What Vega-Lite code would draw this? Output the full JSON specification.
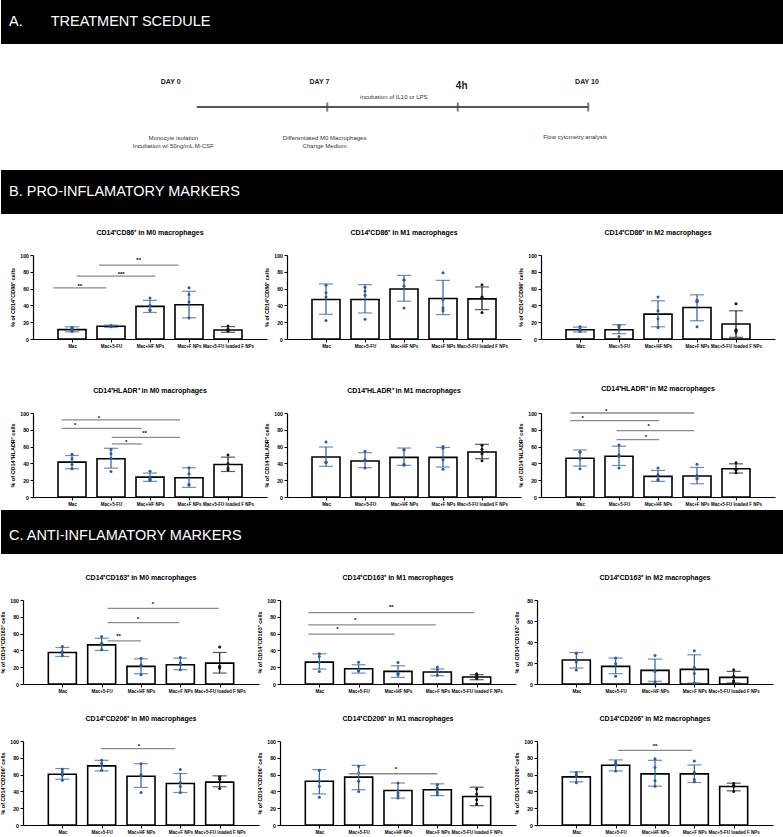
{
"$schema":"https://vega.github.io/schema/vega-lite/v6.json",
"padding":0,
"spacing":0,
"datasets":{
"bars":[
{"p":1,"g":1,"m":11.2,"lo":8.5,"hi":14.5},{"p":1,"g":2,"m":15.2,"lo":14,"hi":16.5},{"p":1,"g":3,"m":38.8,"lo":31.6,"hi":46},{"p":1,"g":4,"m":40.8,"lo":25.2,"hi":56.8},{"p":1,"g":5,"m":10.8,"lo":8,"hi":14.8},
{"p":2,"g":1,"m":47,"lo":29.4,"hi":65.5},{"p":2,"g":2,"m":47,"lo":31,"hi":64.7},{"p":2,"g":3,"m":59.6,"lo":45,"hi":75.7},{"p":2,"g":4,"m":48.2,"lo":29,"hi":69.8},{"p":2,"g":5,"m":47.8,"lo":35,"hi":62},
{"p":3,"g":1,"m":11,"lo":8.3,"hi":14.2},{"p":3,"g":2,"m":11,"lo":6.3,"hi":17},{"p":3,"g":3,"m":29.6,"lo":14.6,"hi":45.5},{"p":3,"g":4,"m":37.5,"lo":21.7,"hi":52.6},{"p":3,"g":5,"m":17.8,"lo":2,"hi":33.6},
{"p":4,"g":1,"m":41.5,"lo":33.6,"hi":49.4},{"p":4,"g":2,"m":45.5,"lo":34.4,"hi":58},{"p":4,"g":3,"m":23.7,"lo":18.6,"hi":28.5},{"p":4,"g":4,"m":23,"lo":11.5,"hi":34.8},{"p":4,"g":5,"m":38.7,"lo":30.4,"hi":47.4},
{"p":5,"g":1,"m":47.6,"lo":36.5,"hi":59.5},{"p":5,"g":2,"m":42.9,"lo":34.9,"hi":52.8},{"p":5,"g":3,"m":47.2,"lo":37.7,"hi":58.3},{"p":5,"g":4,"m":47.2,"lo":35.7,"hi":59},{"p":5,"g":5,"m":53.6,"lo":45.6,"hi":62.7},
{"p":6,"g":1,"m":46.2,"lo":36.8,"hi":56},{"p":6,"g":2,"m":48.6,"lo":37.5,"hi":60.5},{"p":6,"g":3,"m":24.5,"lo":18.6,"hi":31.6},{"p":6,"g":4,"m":25,"lo":15.8,"hi":35.2},{"p":6,"g":5,"m":33.6,"lo":28.5,"hi":39.5},
{"p":7,"g":1,"m":37.5,"lo":32.8,"hi":43.5},{"p":7,"g":2,"m":46.6,"lo":39.9,"hi":54.5},{"p":7,"g":3,"m":21,"lo":12.3,"hi":30},{"p":7,"g":4,"m":22.9,"lo":17,"hi":30.8},{"p":7,"g":5,"m":24.9,"lo":13,"hi":37.5},
{"p":8,"g":1,"m":26,"lo":17.8,"hi":36},{"p":8,"g":2,"m":18.2,"lo":13,"hi":22.9},{"p":8,"g":3,"m":15,"lo":7.9,"hi":21.7},{"p":8,"g":4,"m":14.2,"lo":9.9,"hi":17.8},{"p":8,"g":5,"m":8.3,"lo":5.1,"hi":11.1},
{"p":9,"g":1,"m":22.8,"lo":15.2,"hi":30},{"p":9,"g":2,"m":16.8,"lo":9.8,"hi":24.7},{"p":9,"g":3,"m":13,"lo":2.5,"hi":23.7},{"p":9,"g":4,"m":13.9,"lo":0.9,"hi":27.8},{"p":9,"g":5,"m":6.3,"lo":0.9,"hi":12},
{"p":10,"g":1,"m":60.5,"lo":54.5,"hi":67.2},{"p":10,"g":2,"m":70.4,"lo":64.4,"hi":77},{"p":10,"g":3,"m":58,"lo":44.7,"hi":73},{"p":10,"g":4,"m":49.4,"lo":38.7,"hi":61.3},{"p":10,"g":5,"m":51,"lo":45.5,"hi":58.5},
{"p":11,"g":1,"m":52,"lo":37,"hi":66},{"p":11,"g":2,"m":57,"lo":42,"hi":71},{"p":11,"g":3,"m":41,"lo":32,"hi":50},{"p":11,"g":4,"m":42,"lo":35,"hi":49},{"p":11,"g":5,"m":34,"lo":23,"hi":45},
{"p":12,"g":1,"m":57.3,"lo":51.4,"hi":63.2},{"p":12,"g":2,"m":71.1,"lo":64.4,"hi":77.5},{"p":12,"g":3,"m":60.9,"lo":46.2,"hi":77},{"p":12,"g":4,"m":60.9,"lo":50.6,"hi":71.5},{"p":12,"g":5,"m":45.8,"lo":40.7,"hi":49.8}
],
"dots":[
{"p":1,"g":1,"v":14},{"p":1,"g":1,"v":12},{"p":1,"g":1,"v":10},{"p":1,"g":1,"v":9},
{"p":1,"g":2,"v":16.2},{"p":1,"g":2,"v":15.5},{"p":1,"g":2,"v":15},{"p":1,"g":2,"v":14.5},
{"p":1,"g":3,"v":48.8},{"p":1,"g":3,"v":40},{"p":1,"g":3,"v":34.8},{"p":1,"g":3,"v":34},
{"p":1,"g":4,"v":61},{"p":1,"g":4,"v":53},{"p":1,"g":4,"v":44},{"p":1,"g":4,"v":25},
{"p":1,"g":5,"v":15.6},{"p":1,"g":5,"v":12},{"p":1,"g":5,"v":10},{"p":1,"g":5,"v":9.6},
{"p":2,"g":1,"v":64},{"p":2,"g":1,"v":55},{"p":2,"g":1,"v":50},{"p":2,"g":1,"v":22},
{"p":2,"g":2,"v":61.5},{"p":2,"g":2,"v":57},{"p":2,"g":2,"v":52},{"p":2,"g":2,"v":23.5},
{"p":2,"g":3,"v":70.6},{"p":2,"g":3,"v":70},{"p":2,"g":3,"v":62.7},{"p":2,"g":3,"v":37},
{"p":2,"g":4,"v":78.8},{"p":2,"g":4,"v":47},{"p":2,"g":4,"v":37},{"p":2,"g":4,"v":34},
{"p":2,"g":5,"v":64.7},{"p":2,"g":5,"v":50},{"p":2,"g":5,"v":49},{"p":2,"g":5,"v":31.4},
{"p":3,"g":1,"v":15},{"p":3,"g":1,"v":12},{"p":3,"g":1,"v":10},{"p":3,"g":1,"v":9},
{"p":3,"g":2,"v":16},{"p":3,"g":2,"v":16},{"p":3,"g":2,"v":13.8},{"p":3,"g":2,"v":3},
{"p":3,"g":3,"v":50},{"p":3,"g":3,"v":33.6},{"p":3,"g":3,"v":24},{"p":3,"g":3,"v":13.8},
{"p":3,"g":4,"v":46},{"p":3,"g":4,"v":44.7},{"p":3,"g":4,"v":44.3},{"p":3,"g":4,"v":14.6},
{"p":3,"g":5,"v":42},{"p":3,"g":5,"v":11},{"p":3,"g":5,"v":10},{"p":3,"g":5,"v":8.3},
{"p":4,"g":1,"v":51},{"p":4,"g":1,"v":45.5},{"p":4,"g":1,"v":38.7},{"p":4,"g":1,"v":33.6},
{"p":4,"g":2,"v":56.5},{"p":4,"g":2,"v":51.4},{"p":4,"g":2,"v":46},{"p":4,"g":2,"v":30.4},
{"p":4,"g":3,"v":30.8},{"p":4,"g":3,"v":22.5},{"p":4,"g":3,"v":21},{"p":4,"g":3,"v":19.8},
{"p":4,"g":4,"v":34.8},{"p":4,"g":4,"v":27.7},{"p":4,"g":4,"v":15},{"p":4,"g":4,"v":14.6},
{"p":4,"g":5,"v":50},{"p":4,"g":5,"v":39.5},{"p":4,"g":5,"v":34.8},{"p":4,"g":5,"v":32.4},
{"p":5,"g":1,"v":65.5},{"p":5,"g":1,"v":41.7},{"p":5,"g":1,"v":41.3},{"p":5,"g":1,"v":41},
{"p":5,"g":2,"v":54.4},{"p":5,"g":2,"v":44.4},{"p":5,"g":2,"v":43.7},{"p":5,"g":2,"v":34.5},
{"p":5,"g":3,"v":56.3},{"p":5,"g":3,"v":56},{"p":5,"g":3,"v":39},{"p":5,"g":3,"v":37.7},
{"p":5,"g":4,"v":60},{"p":5,"g":4,"v":58},{"p":5,"g":4,"v":44.4},{"p":5,"g":4,"v":32.9},
{"p":5,"g":5,"v":61.5},{"p":5,"g":5,"v":56.7},{"p":5,"g":5,"v":51.6},{"p":5,"g":5,"v":43.3},
{"p":6,"g":1,"v":54},{"p":6,"g":1,"v":53.4},{"p":6,"g":1,"v":45.5},{"p":6,"g":1,"v":33.6},
{"p":6,"g":2,"v":62},{"p":6,"g":2,"v":50.2},{"p":6,"g":2,"v":48.6},{"p":6,"g":2,"v":34.4},
{"p":6,"g":3,"v":34.4},{"p":6,"g":3,"v":26.5},{"p":6,"g":3,"v":20.6},{"p":6,"g":3,"v":20.6},
{"p":6,"g":4,"v":39},{"p":6,"g":4,"v":25.7},{"p":6,"g":4,"v":22.5},{"p":6,"g":4,"v":21.7},
{"p":6,"g":5,"v":40.7},{"p":6,"g":5,"v":32.8},{"p":6,"g":5,"v":32},{"p":6,"g":5,"v":28.9},
{"p":7,"g":1,"v":44.7},{"p":7,"g":1,"v":38.7},{"p":7,"g":1,"v":36.8},{"p":7,"g":1,"v":33.6},
{"p":7,"g":2,"v":56.5},{"p":7,"g":2,"v":48.6},{"p":7,"g":2,"v":46.6},{"p":7,"g":2,"v":40.7},
{"p":7,"g":3,"v":30.8},{"p":7,"g":3,"v":22.9},{"p":7,"g":3,"v":21.7},{"p":7,"g":3,"v":11.1},
{"p":7,"g":4,"v":31.6},{"p":7,"g":4,"v":24.9},{"p":7,"g":4,"v":22.9},{"p":7,"g":4,"v":17},
{"p":7,"g":5,"v":43.9},{"p":7,"g":5,"v":21},{"p":7,"g":5,"v":20.2},{"p":7,"g":5,"v":19},
{"p":8,"g":1,"v":36},{"p":8,"g":1,"v":32.8},{"p":8,"g":1,"v":26},{"p":8,"g":1,"v":15},
{"p":8,"g":2,"v":26},{"p":8,"g":2,"v":17},{"p":8,"g":2,"v":15.8},{"p":8,"g":2,"v":15.8},
{"p":8,"g":3,"v":25.7},{"p":8,"g":3,"v":13},{"p":8,"g":3,"v":12.3},{"p":8,"g":3,"v":11.1},
{"p":8,"g":4,"v":20.2},{"p":8,"g":4,"v":17},{"p":8,"g":4,"v":14.2},{"p":8,"g":4,"v":10.3},
{"p":8,"g":5,"v":12.3},{"p":8,"g":5,"v":10.3},{"p":8,"g":5,"v":7.9},{"p":8,"g":5,"v":6.3},
{"p":9,"g":1,"v":29.4},{"p":9,"g":1,"v":29.4},{"p":9,"g":1,"v":20.9},{"p":9,"g":1,"v":13.3},
{"p":9,"g":2,"v":24.7},{"p":9,"g":2,"v":19.3},{"p":9,"g":2,"v":7.3},
{"p":9,"g":3,"v":27.2},{"p":9,"g":3,"v":12.7},{"p":9,"g":3,"v":12},{"p":9,"g":3,"v":1.9},
{"p":9,"g":4,"v":31.6},{"p":9,"g":4,"v":15.8},{"p":9,"g":4,"v":10.1},{"p":9,"g":4,"v":1},
{"p":9,"g":5,"v":13.6},{"p":9,"g":5,"v":7.3},{"p":9,"g":5,"v":3.2},{"p":9,"g":5,"v":1.9},
{"p":10,"g":1,"v":66.4},{"p":10,"g":1,"v":63.2},{"p":10,"g":1,"v":59.3},{"p":10,"g":1,"v":53.4},
{"p":10,"g":2,"v":77},{"p":10,"g":2,"v":73.1},{"p":10,"g":2,"v":70.4},{"p":10,"g":2,"v":65.2},
{"p":10,"g":3,"v":73},{"p":10,"g":3,"v":59.7},{"p":10,"g":3,"v":58.5},{"p":10,"g":3,"v":38.7},
{"p":10,"g":4,"v":66},{"p":10,"g":4,"v":50.6},{"p":10,"g":4,"v":45.8},{"p":10,"g":4,"v":38.7},
{"p":10,"g":5,"v":57.3},{"p":10,"g":5,"v":56.5},{"p":10,"g":5,"v":54.5},{"p":10,"g":5,"v":43.5},
{"p":11,"g":1,"v":65},{"p":11,"g":1,"v":52},{"p":11,"g":1,"v":46},{"p":11,"g":1,"v":33},
{"p":11,"g":2,"v":70},{"p":11,"g":2,"v":62},{"p":11,"g":2,"v":52},{"p":11,"g":2,"v":40},
{"p":11,"g":3,"v":50},{"p":11,"g":3,"v":38},{"p":11,"g":3,"v":35},{"p":11,"g":3,"v":32},
{"p":11,"g":4,"v":48},{"p":11,"g":4,"v":44},{"p":11,"g":4,"v":39},{"p":11,"g":4,"v":36},
{"p":11,"g":5,"v":43},{"p":11,"g":5,"v":37},{"p":11,"g":5,"v":30},{"p":11,"g":5,"v":25},
{"p":12,"g":1,"v":62.5},{"p":12,"g":1,"v":59.7},{"p":12,"g":1,"v":58.5},{"p":12,"g":1,"v":50.2},
{"p":12,"g":2,"v":75.5},{"p":12,"g":2,"v":73.5},{"p":12,"g":2,"v":71.1},{"p":12,"g":2,"v":64.4},
{"p":12,"g":3,"v":79},{"p":12,"g":3,"v":68.4},{"p":12,"g":3,"v":52.6},{"p":12,"g":3,"v":46.2},
{"p":12,"g":4,"v":76.3},{"p":12,"g":4,"v":62.5},{"p":12,"g":4,"v":54.2},{"p":12,"g":4,"v":51.4},
{"p":12,"g":5,"v":49.4},{"p":12,"g":5,"v":47.4},{"p":12,"g":5,"v":46.2},{"p":12,"g":5,"v":39.9}
],
"sig":[
{"p":1,"x1":0.52,"x2":1.88,"y":60.8,"lx":1.2,"ly":65,"s":"**"},
{"p":1,"x1":1.12,"x2":3.14,"y":74.8,"lx":2.26,"ly":78.8,"s":"***"},
{"p":1,"x1":1.69,"x2":3.73,"y":88,"lx":2.71,"ly":96,"s":"**"},
{"p":4,"x1":0.74,"x2":3.77,"y":91.7,"lx":1.69,"ly":95.7,"s":"*"},
{"p":4,"x1":0.74,"x2":2.79,"y":81.8,"lx":1.08,"ly":87,"s":"*"},
{"p":4,"x1":2.02,"x2":3.77,"y":71.1,"lx":2.86,"ly":77.9,"s":"**"},
{"p":4,"x1":2.02,"x2":2.79,"y":63.2,"lx":2.39,"ly":67.2,"s":"*"},
{"p":6,"x1":0.75,"x2":3.93,"y":100,"lx":1.67,"ly":104,"s":"*"},
{"p":6,"x1":0.75,"x2":3.03,"y":90.9,"lx":1.07,"ly":95.7,"s":"*"},
{"p":6,"x1":1.94,"x2":3.93,"y":79.1,"lx":2.76,"ly":85.8,"s":"*"},
{"p":6,"x1":1.94,"x2":3.03,"y":68.4,"lx":2.69,"ly":73,"s":"*"},
{"p":7,"x1":2.15,"x2":4.98,"y":90.1,"lx":3.3,"ly":96.8,"s":"*"},
{"p":7,"x1":2.15,"x2":3.97,"y":73.1,"lx":2.92,"ly":79,"s":"*"},
{"p":7,"x1":2.15,"x2":3.0,"y":51.4,"lx":2.43,"ly":58.5,"s":"**"},
{"p":8,"x1":0.72,"x2":4.94,"y":85,"lx":2.83,"ly":92.9,"s":"**"},
{"p":8,"x1":0.72,"x2":3.96,"y":70.4,"lx":1.91,"ly":78.3,"s":"*"},
{"p":8,"x1":0.72,"x2":2.91,"y":59.3,"lx":1.46,"ly":67.2,"s":"*"},
{"p":10,"x1":1.98,"x2":3.87,"y":90.9,"lx":2.95,"ly":96,"s":"*"},
{"p":11,"x1":1.75,"x2":4.0,"y":61,"lx":2.95,"ly":68,"s":"*"},
{"p":12,"x1":2.06,"x2":3.95,"y":88.9,"lx":3.0,"ly":96,"s":"**"}
]
},
"vconcat":[
{"width":783,"height":44,"view":{"fill":"#000000","stroke":null},"data":{"values":[]},"mark":{"type":"point","opacity":0},
 "title":{"text":"A.\u00a0\u00a0\u00a0\u00a0\u00a0\u00a0 TREATMENT SCEDULE","anchor":"start","frame":"group","offset":-29.5,"dx":8,"color":"white","fontSize":14.5,"fontWeight":"normal"}},
{"width":783,"height":126,
 "layer":[
  {"data":{"values":[{"t0":0,"t1":3,"lv":0}]},"mark":{"type":"rule","color":"#555555","strokeWidth":2},
   "encoding":{"x":{"field":"t0","type":"quantitative","scale":{"domain":[-1.365,4.2]},"axis":null},"x2":{"field":"t1"},"y":{"field":"lv","type":"quantitative","scale":{"domain":[-2,2]},"axis":null}}},
  {"data":{"values":[{"t":1,"lv":0},{"t":2,"lv":0},{"t":3,"lv":0}]},"mark":{"type":"tick","orient":"vertical","size":9,"thickness":2,"color":"#444444"},
   "encoding":{"x":{"field":"t","type":"quantitative"},"y":{"field":"lv","type":"quantitative"}}},
  {"data":{"values":[{"t":-0.2,"lv":0.79,"s":"DAY 0"},{"t":0.94,"lv":0.79,"s":"DAY 7"},{"t":2.99,"lv":0.79,"s":"DAY 10"}]},
   "mark":{"type":"text","font":"Liberation Sans Narrow, Liberation Sans","fontSize":7,"fontWeight":"bold","color":"#222222"},
   "encoding":{"x":{"field":"t","type":"quantitative"},"y":{"field":"lv","type":"quantitative"},"text":{"field":"s"}}},
  {"data":{"values":[{"t":2.03,"lv":0.66,"s":"4h"}]},
   "mark":{"type":"text","font":"Liberation Sans Narrow, Liberation Sans","fontSize":10,"fontWeight":"bold","color":"#222222"},
   "encoding":{"x":{"field":"t","type":"quantitative"},"y":{"field":"lv","type":"quantitative"},"text":{"field":"s"}}},
  {"data":{"values":[{"t":1.51,"lv":0.32,"s":"incubation of IL10 or LPS"},{"t":-0.18,"lv":-0.97,"s":["Monocyte isolation","Incubation w/ 50ng/mL M-CSF"]},{"t":0.98,"lv":-0.97,"s":["Differentiated  M0 Macrophages","Change Medium"]},{"t":2.9,"lv":-0.94,"s":"Flow cytometry analysis"}]},
   "mark":{"type":"text","font":"Liberation Sans Narrow, Liberation Sans","fontSize":6,"lineHeight":8,"color":"#333333"},
   "encoding":{"x":{"field":"t","type":"quantitative"},"y":{"field":"lv","type":"quantitative"},"text":{"field":"s"}}}
 ]},
{"width":783,"height":44,"view":{"fill":"#000000","stroke":null},"data":{"values":[]},"mark":{"type":"point","opacity":0},
 "title":{"text":"B. PRO-INFLAMATORY MARKERS","anchor":"start","frame":"group","offset":-29,"dx":8,"color":"white","fontSize":14.5,"fontWeight":"normal"}},
{"width":1,"height":15,"data":{"values":[]},"mark":{"type":"point","opacity":0}},
{"hconcat":[
 {"width":12,"height":1,"data":{"values":[]},"mark":{"type":"point","opacity":0}},
 {"width":234,"height":84,"title":"CD14⁺CD86⁺ in M0 macrophages","layer":[
  {"data":{"name":"bars"},"transform":[{"filter":"datum.p==1"}],"mark":{"type":"bar","width":28,"fill":"white","stroke":"black","strokeWidth":1.6},"encoding":{"x":{"field":"g","type":"quantitative","scale":{"domain":[0.35,5.6]},"axis":{"values":[1,2,3,4,5],"title":null,"labelExpr":"['','Mac','Mac+5-FU','Mac+HF NPs','Mac+F NPs','Mac+5-FU loaded F NPs'][datum.value]","labelOverlap":false,"labelFlush":false,"labelBound":false}},"y":{"field":"m","type":"quantitative","scale":{"domain":[0,100]},"axis":{"values":[0,20,40,60,80,100],"tickCount":6,"labelOverlap":false,"title":"% of CD14⁺CD86⁺ cells"}}}},
  {"data":{"name":"bars"},"transform":[{"filter":"datum.p==1"}],"mark":{"type":"rule","strokeWidth":1.2},"encoding":{"x":{"field":"g","type":"quantitative"},"y":{"field":"lo","type":"quantitative"},"y2":{"field":"hi"},"color":{"field":"g","type":"nominal","scale":{"domain":[1,2,3,4,5],"range":["#2d5c9b","#2d5c9b","#2d5c9b","#2d5c9b","#141414"]},"legend":null}}},
  {"data":{"name":"bars"},"transform":[{"filter":"datum.p==1"}],"mark":{"type":"tick","orient":"horizontal","size":14,"thickness":1.2},"encoding":{"x":{"field":"g","type":"quantitative"},"y":{"field":"lo","type":"quantitative"},"color":{"field":"g","type":"nominal","legend":null}}},
  {"data":{"name":"bars"},"transform":[{"filter":"datum.p==1"}],"mark":{"type":"tick","orient":"horizontal","size":14,"thickness":1.2},"encoding":{"x":{"field":"g","type":"quantitative"},"y":{"field":"hi","type":"quantitative"},"color":{"field":"g","type":"nominal","legend":null}}},
  {"data":{"name":"dots"},"transform":[{"filter":"datum.p==1"}],"mark":{"type":"point","filled":true,"size":9,"opacity":1},"encoding":{"x":{"field":"g","type":"quantitative"},"y":{"field":"v","type":"quantitative"},"color":{"field":"g","type":"nominal","legend":null}}},
  {"data":{"name":"sig"},"transform":[{"filter":"datum.p==1"}],"mark":{"type":"rule","color":"#8a8a8a","strokeWidth":1.3},"encoding":{"x":{"field":"x1","type":"quantitative"},"x2":{"field":"x2"},"y":{"field":"y","type":"quantitative"}}},
  {"data":{"name":"sig"},"transform":[{"filter":"datum.p==1"}],"mark":{"type":"text","fontSize":6,"fontWeight":"bold","baseline":"middle","dy":1.5,"color":"black"},"encoding":{"x":{"field":"lx","type":"quantitative"},"y":{"field":"ly","type":"quantitative"},"text":{"field":"s"}}}
 ]},
 {"width":234,"height":84,"title":"CD14⁺CD86⁺ in M1 macrophages","layer":[
  {"data":{"name":"bars"},"transform":[{"filter":"datum.p==2"}],"mark":{"type":"bar","width":28,"fill":"white","stroke":"black","strokeWidth":1.6},"encoding":{"x":{"field":"g","type":"quantitative","scale":{"domain":[0.35,5.6]},"axis":{"values":[1,2,3,4,5],"title":null,"labelExpr":"['','Mac','Mac+5-FU','Mac+HF NPs','Mac+F NPs','Mac+5-FU loaded F NPs'][datum.value]","labelOverlap":false,"labelFlush":false,"labelBound":false}},"y":{"field":"m","type":"quantitative","scale":{"domain":[0,100]},"axis":{"values":[0,20,40,60,80,100],"tickCount":6,"labelOverlap":false,"title":"% of CD14⁺CD86⁺ cells"}}}},
  {"data":{"name":"bars"},"transform":[{"filter":"datum.p==2"}],"mark":{"type":"rule","strokeWidth":1.2},"encoding":{"x":{"field":"g","type":"quantitative"},"y":{"field":"lo","type":"quantitative"},"y2":{"field":"hi"},"color":{"field":"g","type":"nominal","legend":null}}},
  {"data":{"name":"bars"},"transform":[{"filter":"datum.p==2"}],"mark":{"type":"tick","orient":"horizontal","size":14,"thickness":1.2},"encoding":{"x":{"field":"g","type":"quantitative"},"y":{"field":"lo","type":"quantitative"},"color":{"field":"g","type":"nominal","legend":null}}},
  {"data":{"name":"bars"},"transform":[{"filter":"datum.p==2"}],"mark":{"type":"tick","orient":"horizontal","size":14,"thickness":1.2},"encoding":{"x":{"field":"g","type":"quantitative"},"y":{"field":"hi","type":"quantitative"},"color":{"field":"g","type":"nominal","legend":null}}},
  {"data":{"name":"dots"},"transform":[{"filter":"datum.p==2"}],"mark":{"type":"point","filled":true,"size":9,"opacity":1},"encoding":{"x":{"field":"g","type":"quantitative"},"y":{"field":"v","type":"quantitative"},"color":{"field":"g","type":"nominal","legend":null}}}
 ]},
 {"width":234,"height":84,"title":"CD14⁺CD86⁺ in M2 macrophages","layer":[
  {"data":{"name":"bars"},"transform":[{"filter":"datum.p==3"}],"mark":{"type":"bar","width":28,"fill":"white","stroke":"black","strokeWidth":1.6},"encoding":{"x":{"field":"g","type":"quantitative","scale":{"domain":[0.35,5.6]},"axis":{"values":[1,2,3,4,5],"title":null,"labelExpr":"['','Mac','Mac+5-FU','Mac+HF NPs','Mac+F NPs','Mac+5-FU loaded F NPs'][datum.value]","labelOverlap":false,"labelFlush":false,"labelBound":false}},"y":{"field":"m","type":"quantitative","scale":{"domain":[0,100]},"axis":{"values":[0,20,40,60,80,100],"tickCount":6,"labelOverlap":false,"title":"% of CD14⁺CD86⁺ cells"}}}},
  {"data":{"name":"bars"},"transform":[{"filter":"datum.p==3"}],"mark":{"type":"rule","strokeWidth":1.2},"encoding":{"x":{"field":"g","type":"quantitative"},"y":{"field":"lo","type":"quantitative"},"y2":{"field":"hi"},"color":{"field":"g","type":"nominal","legend":null}}},
  {"data":{"name":"bars"},"transform":[{"filter":"datum.p==3"}],"mark":{"type":"tick","orient":"horizontal","size":14,"thickness":1.2},"encoding":{"x":{"field":"g","type":"quantitative"},"y":{"field":"lo","type":"quantitative"},"color":{"field":"g","type":"nominal","legend":null}}},
  {"data":{"name":"bars"},"transform":[{"filter":"datum.p==3"}],"mark":{"type":"tick","orient":"horizontal","size":14,"thickness":1.2},"encoding":{"x":{"field":"g","type":"quantitative"},"y":{"field":"hi","type":"quantitative"},"color":{"field":"g","type":"nominal","legend":null}}},
  {"data":{"name":"dots"},"transform":[{"filter":"datum.p==3"}],"mark":{"type":"point","filled":true,"size":9,"opacity":1},"encoding":{"x":{"field":"g","type":"quantitative"},"y":{"field":"v","type":"quantitative"},"color":{"field":"g","type":"nominal","legend":null}}}
 ]}
],"bounds":"flush","spacing":20},
{"width":1,"height":37,"data":{"values":[]},"mark":{"type":"point","opacity":0}},
{"hconcat":[
 {"width":12,"height":1,"data":{"values":[]},"mark":{"type":"point","opacity":0}},
 {"width":234,"height":84,"title":"CD14⁺HLADR⁺ in M0 macrophages","layer":[
  {"data":{"name":"bars"},"transform":[{"filter":"datum.p==4"}],"mark":{"type":"bar","width":28,"fill":"white","stroke":"black","strokeWidth":1.6},"encoding":{"x":{"field":"g","type":"quantitative","scale":{"domain":[0.35,5.6]},"axis":{"values":[1,2,3,4,5],"title":null,"labelExpr":"['','Mac','Mac+5-FU','Mac+HF NPs','Mac+F NPs','Mac+5-FU loaded F NPs'][datum.value]","labelOverlap":false,"labelFlush":false,"labelBound":false}},"y":{"field":"m","type":"quantitative","scale":{"domain":[0,100]},"axis":{"values":[0,20,40,60,80,100],"tickCount":6,"labelOverlap":false,"title":"% of CD14⁺HLADR⁺ cells"}}}},
  {"data":{"name":"bars"},"transform":[{"filter":"datum.p==4"}],"mark":{"type":"rule","strokeWidth":1.2},"encoding":{"x":{"field":"g","type":"quantitative"},"y":{"field":"lo","type":"quantitative"},"y2":{"field":"hi"},"color":{"field":"g","type":"nominal","legend":null}}},
  {"data":{"name":"bars"},"transform":[{"filter":"datum.p==4"}],"mark":{"type":"tick","orient":"horizontal","size":14,"thickness":1.2},"encoding":{"x":{"field":"g","type":"quantitative"},"y":{"field":"lo","type":"quantitative"},"color":{"field":"g","type":"nominal","legend":null}}},
  {"data":{"name":"bars"},"transform":[{"filter":"datum.p==4"}],"mark":{"type":"tick","orient":"horizontal","size":14,"thickness":1.2},"encoding":{"x":{"field":"g","type":"quantitative"},"y":{"field":"hi","type":"quantitative"},"color":{"field":"g","type":"nominal","legend":null}}},
  {"data":{"name":"dots"},"transform":[{"filter":"datum.p==4"}],"mark":{"type":"point","filled":true,"size":9,"opacity":1},"encoding":{"x":{"field":"g","type":"quantitative"},"y":{"field":"v","type":"quantitative"},"color":{"field":"g","type":"nominal","legend":null}}},
  {"data":{"name":"sig"},"transform":[{"filter":"datum.p==4"}],"mark":{"type":"rule","color":"#8a8a8a","strokeWidth":1.3},"encoding":{"x":{"field":"x1","type":"quantitative"},"x2":{"field":"x2"},"y":{"field":"y","type":"quantitative"}}},
  {"data":{"name":"sig"},"transform":[{"filter":"datum.p==4"}],"mark":{"type":"text","fontSize":6,"fontWeight":"bold","baseline":"middle","dy":1.5,"color":"black"},"encoding":{"x":{"field":"lx","type":"quantitative"},"y":{"field":"ly","type":"quantitative"},"text":{"field":"s"}}}
 ]},
 {"width":234,"height":84,"title":"CD14⁺HLADR⁺ in M1 macrophages","layer":[
  {"data":{"name":"bars"},"transform":[{"filter":"datum.p==5"}],"mark":{"type":"bar","width":28,"fill":"white","stroke":"black","strokeWidth":1.6},"encoding":{"x":{"field":"g","type":"quantitative","scale":{"domain":[0.35,5.6]},"axis":{"values":[1,2,3,4,5],"title":null,"labelExpr":"['','Mac','Mac+5-FU','Mac+HF NPs','Mac+F NPs','Mac+5-FU loaded F NPs'][datum.value]","labelOverlap":false,"labelFlush":false,"labelBound":false}},"y":{"field":"m","type":"quantitative","scale":{"domain":[0,100]},"axis":{"values":[0,20,40,60,80,100],"tickCount":6,"labelOverlap":false,"title":"% of CD14⁺HLADR⁺ cells"}}}},
  {"data":{"name":"bars"},"transform":[{"filter":"datum.p==5"}],"mark":{"type":"rule","strokeWidth":1.2},"encoding":{"x":{"field":"g","type":"quantitative"},"y":{"field":"lo","type":"quantitative"},"y2":{"field":"hi"},"color":{"field":"g","type":"nominal","legend":null}}},
  {"data":{"name":"bars"},"transform":[{"filter":"datum.p==5"}],"mark":{"type":"tick","orient":"horizontal","size":14,"thickness":1.2},"encoding":{"x":{"field":"g","type":"quantitative"},"y":{"field":"lo","type":"quantitative"},"color":{"field":"g","type":"nominal","legend":null}}},
  {"data":{"name":"bars"},"transform":[{"filter":"datum.p==5"}],"mark":{"type":"tick","orient":"horizontal","size":14,"thickness":1.2},"encoding":{"x":{"field":"g","type":"quantitative"},"y":{"field":"hi","type":"quantitative"},"color":{"field":"g","type":"nominal","legend":null}}},
  {"data":{"name":"dots"},"transform":[{"filter":"datum.p==5"}],"mark":{"type":"point","filled":true,"size":9,"opacity":1},"encoding":{"x":{"field":"g","type":"quantitative"},"y":{"field":"v","type":"quantitative"},"color":{"field":"g","type":"nominal","legend":null}}}
 ]},
 {"width":234,"height":84,"title":{"text":"CD14⁺HLADR⁺ in M2 macrophages","offset":16},"layer":[
  {"data":{"name":"bars"},"transform":[{"filter":"datum.p==6"}],"mark":{"type":"bar","width":28,"fill":"white","stroke":"black","strokeWidth":1.6},"encoding":{"x":{"field":"g","type":"quantitative","scale":{"domain":[0.35,5.6]},"axis":{"values":[1,2,3,4,5],"title":null,"labelExpr":"['','Mac','Mac+5-FU','Mac+HF NPs','Mac+F NPs','Mac+5-FU loaded F NPs'][datum.value]","labelOverlap":false,"labelFlush":false,"labelBound":false}},"y":{"field":"m","type":"quantitative","scale":{"domain":[0,100]},"axis":{"values":[0,20,40,60,80,100],"tickCount":6,"labelOverlap":false,"title":"% of CD14⁺HLADR⁺ cells"}}}},
  {"data":{"name":"bars"},"transform":[{"filter":"datum.p==6"}],"mark":{"type":"rule","strokeWidth":1.2},"encoding":{"x":{"field":"g","type":"quantitative"},"y":{"field":"lo","type":"quantitative"},"y2":{"field":"hi"},"color":{"field":"g","type":"nominal","legend":null}}},
  {"data":{"name":"bars"},"transform":[{"filter":"datum.p==6"}],"mark":{"type":"tick","orient":"horizontal","size":14,"thickness":1.2},"encoding":{"x":{"field":"g","type":"quantitative"},"y":{"field":"lo","type":"quantitative"},"color":{"field":"g","type":"nominal","legend":null}}},
  {"data":{"name":"bars"},"transform":[{"filter":"datum.p==6"}],"mark":{"type":"tick","orient":"horizontal","size":14,"thickness":1.2},"encoding":{"x":{"field":"g","type":"quantitative"},"y":{"field":"hi","type":"quantitative"},"color":{"field":"g","type":"nominal","legend":null}}},
  {"data":{"name":"dots"},"transform":[{"filter":"datum.p==6"}],"mark":{"type":"point","filled":true,"size":9,"opacity":1},"encoding":{"x":{"field":"g","type":"quantitative"},"y":{"field":"v","type":"quantitative"},"color":{"field":"g","type":"nominal","legend":null}}},
  {"data":{"name":"sig"},"transform":[{"filter":"datum.p==6"}],"mark":{"type":"rule","color":"#8a8a8a","strokeWidth":1.3},"encoding":{"x":{"field":"x1","type":"quantitative"},"x2":{"field":"x2"},"y":{"field":"y","type":"quantitative"}}},
  {"data":{"name":"sig"},"transform":[{"filter":"datum.p==6"}],"mark":{"type":"text","fontSize":6,"fontWeight":"bold","baseline":"middle","dy":1.5,"color":"black"},"encoding":{"x":{"field":"lx","type":"quantitative"},"y":{"field":"ly","type":"quantitative"},"text":{"field":"s"}}}
 ]}
],"bounds":"flush","spacing":20},
{"width":1,"height":4,"data":{"values":[]},"mark":{"type":"point","opacity":0}},
{"width":783,"height":44,"view":{"fill":"#000000","stroke":null},"data":{"values":[]},"mark":{"type":"point","opacity":0},
 "title":{"text":"C. ANTI-INFLAMATORY MARKERS","anchor":"start","frame":"group","offset":-33,"dx":8,"color":"white","fontSize":14.5,"fontWeight":"normal"}},
{"width":1,"height":20,"data":{"values":[]},"mark":{"type":"point","opacity":0}},
{"hconcat":[
 {"width":1,"height":1,"data":{"values":[]},"mark":{"type":"point","opacity":0}},
 {"width":236,"height":84,"title":"CD14⁺CD163⁺ in M0 macrophages","layer":[
  {"data":{"name":"bars"},"transform":[{"filter":"datum.p==7"}],"mark":{"type":"bar","width":28,"fill":"white","stroke":"black","strokeWidth":1.6},"encoding":{"x":{"field":"g","type":"quantitative","scale":{"domain":[0.45,5.75]},"axis":{"values":[1,2,3,4,5],"title":null,"labelExpr":"['','Mac','Mac+5-FU','Mac+HF NPs','Mac+F NPs','Mac+5-FU loaded F NPs'][datum.value]","labelOverlap":false,"labelFlush":false,"labelBound":false}},"y":{"field":"m","type":"quantitative","scale":{"domain":[0,100]},"axis":{"values":[0,20,40,60,80,100],"tickCount":6,"labelOverlap":false,"title":"% of CD14⁺CD163⁺ cells"}}}},
  {"data":{"name":"bars"},"transform":[{"filter":"datum.p==7"}],"mark":{"type":"rule","strokeWidth":1.2},"encoding":{"x":{"field":"g","type":"quantitative"},"y":{"field":"lo","type":"quantitative"},"y2":{"field":"hi"},"color":{"field":"g","type":"nominal","legend":null}}},
  {"data":{"name":"bars"},"transform":[{"filter":"datum.p==7"}],"mark":{"type":"tick","orient":"horizontal","size":14,"thickness":1.2},"encoding":{"x":{"field":"g","type":"quantitative"},"y":{"field":"lo","type":"quantitative"},"color":{"field":"g","type":"nominal","legend":null}}},
  {"data":{"name":"bars"},"transform":[{"filter":"datum.p==7"}],"mark":{"type":"tick","orient":"horizontal","size":14,"thickness":1.2},"encoding":{"x":{"field":"g","type":"quantitative"},"y":{"field":"hi","type":"quantitative"},"color":{"field":"g","type":"nominal","legend":null}}},
  {"data":{"name":"dots"},"transform":[{"filter":"datum.p==7"}],"mark":{"type":"point","filled":true,"size":9,"opacity":1},"encoding":{"x":{"field":"g","type":"quantitative"},"y":{"field":"v","type":"quantitative"},"color":{"field":"g","type":"nominal","legend":null}}},
  {"data":{"name":"sig"},"transform":[{"filter":"datum.p==7"}],"mark":{"type":"rule","color":"#8a8a8a","strokeWidth":1.3},"encoding":{"x":{"field":"x1","type":"quantitative"},"x2":{"field":"x2"},"y":{"field":"y","type":"quantitative"}}},
  {"data":{"name":"sig"},"transform":[{"filter":"datum.p==7"}],"mark":{"type":"text","fontSize":6,"fontWeight":"bold","baseline":"middle","dy":1.5,"color":"black"},"encoding":{"x":{"field":"lx","type":"quantitative"},"y":{"field":"ly","type":"quantitative"},"text":{"field":"s"}}}
 ]},
 {"width":236,"height":84,"title":"CD14⁺CD163⁺ in M1 macrophages","layer":[
  {"data":{"name":"bars"},"transform":[{"filter":"datum.p==8"}],"mark":{"type":"bar","width":28,"fill":"white","stroke":"black","strokeWidth":1.6},"encoding":{"x":{"field":"g","type":"quantitative","scale":{"domain":[0.45,5.75]},"axis":{"values":[1,2,3,4,5],"title":null,"labelExpr":"['','Mac','Mac+5-FU','Mac+HF NPs','Mac+F NPs','Mac+5-FU loaded F NPs'][datum.value]","labelOverlap":false,"labelFlush":false,"labelBound":false}},"y":{"field":"m","type":"quantitative","scale":{"domain":[0,100]},"axis":{"values":[0,20,40,60,80,100],"tickCount":6,"labelOverlap":false,"title":"% of CD14⁺CD163⁺ cells"}}}},
  {"data":{"name":"bars"},"transform":[{"filter":"datum.p==8"}],"mark":{"type":"rule","strokeWidth":1.2},"encoding":{"x":{"field":"g","type":"quantitative"},"y":{"field":"lo","type":"quantitative"},"y2":{"field":"hi"},"color":{"field":"g","type":"nominal","legend":null}}},
  {"data":{"name":"bars"},"transform":[{"filter":"datum.p==8"}],"mark":{"type":"tick","orient":"horizontal","size":14,"thickness":1.2},"encoding":{"x":{"field":"g","type":"quantitative"},"y":{"field":"lo","type":"quantitative"},"color":{"field":"g","type":"nominal","legend":null}}},
  {"data":{"name":"bars"},"transform":[{"filter":"datum.p==8"}],"mark":{"type":"tick","orient":"horizontal","size":14,"thickness":1.2},"encoding":{"x":{"field":"g","type":"quantitative"},"y":{"field":"hi","type":"quantitative"},"color":{"field":"g","type":"nominal","legend":null}}},
  {"data":{"name":"dots"},"transform":[{"filter":"datum.p==8"}],"mark":{"type":"point","filled":true,"size":9,"opacity":1},"encoding":{"x":{"field":"g","type":"quantitative"},"y":{"field":"v","type":"quantitative"},"color":{"field":"g","type":"nominal","legend":null}}},
  {"data":{"name":"sig"},"transform":[{"filter":"datum.p==8"}],"mark":{"type":"rule","color":"#8a8a8a","strokeWidth":1.3},"encoding":{"x":{"field":"x1","type":"quantitative"},"x2":{"field":"x2"},"y":{"field":"y","type":"quantitative"}}},
  {"data":{"name":"sig"},"transform":[{"filter":"datum.p==8"}],"mark":{"type":"text","fontSize":6,"fontWeight":"bold","baseline":"middle","dy":1.5,"color":"black"},"encoding":{"x":{"field":"lx","type":"quantitative"},"y":{"field":"ly","type":"quantitative"},"text":{"field":"s"}}}
 ]},
 {"width":236,"height":84,"title":"CD14⁺CD163⁺ in M2 macrophages","layer":[
  {"data":{"name":"bars"},"transform":[{"filter":"datum.p==9"}],"mark":{"type":"bar","width":28,"fill":"white","stroke":"black","strokeWidth":1.6},"encoding":{"x":{"field":"g","type":"quantitative","scale":{"domain":[0.45,5.75]},"axis":{"values":[1,2,3,4,5],"title":null,"labelExpr":"['','Mac','Mac+5-FU','Mac+HF NPs','Mac+F NPs','Mac+5-FU loaded F NPs'][datum.value]","labelOverlap":false,"labelFlush":false,"labelBound":false}},"y":{"field":"m","type":"quantitative","scale":{"domain":[0,80]},"axis":{"values":[0,20,40,60,80],"tickCount":5,"labelOverlap":false,"title":"% of CD14⁺CD163⁺ cells"}}}},
  {"data":{"name":"bars"},"transform":[{"filter":"datum.p==9"}],"mark":{"type":"rule","strokeWidth":1.2},"encoding":{"x":{"field":"g","type":"quantitative"},"y":{"field":"lo","type":"quantitative"},"y2":{"field":"hi"},"color":{"field":"g","type":"nominal","legend":null}}},
  {"data":{"name":"bars"},"transform":[{"filter":"datum.p==9"}],"mark":{"type":"tick","orient":"horizontal","size":14,"thickness":1.2},"encoding":{"x":{"field":"g","type":"quantitative"},"y":{"field":"lo","type":"quantitative"},"color":{"field":"g","type":"nominal","legend":null}}},
  {"data":{"name":"bars"},"transform":[{"filter":"datum.p==9"}],"mark":{"type":"tick","orient":"horizontal","size":14,"thickness":1.2},"encoding":{"x":{"field":"g","type":"quantitative"},"y":{"field":"hi","type":"quantitative"},"color":{"field":"g","type":"nominal","legend":null}}},
  {"data":{"name":"dots"},"transform":[{"filter":"datum.p==9"}],"mark":{"type":"point","filled":true,"size":9,"opacity":1},"encoding":{"x":{"field":"g","type":"quantitative"},"y":{"field":"v","type":"quantitative"},"color":{"field":"g","type":"nominal","legend":null}}}
 ]}
],"bounds":"flush","spacing":21},
{"width":1,"height":22,"data":{"values":[]},"mark":{"type":"point","opacity":0}},
{"hconcat":[
 {"width":1,"height":1,"data":{"values":[]},"mark":{"type":"point","opacity":0}},
 {"width":236,"height":84,"title":"CD14⁺CD206⁺ in M0 macrophages","layer":[
  {"data":{"name":"bars"},"transform":[{"filter":"datum.p==10"}],"mark":{"type":"bar","width":28,"fill":"white","stroke":"black","strokeWidth":1.6},"encoding":{"x":{"field":"g","type":"quantitative","scale":{"domain":[0.45,5.75]},"axis":{"values":[1,2,3,4,5],"title":null,"labelExpr":"['','Mac','Mac+5-FU','Mac+HF NPs','Mac+F NPs','Mac+5-FU loaded F NPs'][datum.value]","labelOverlap":false,"labelFlush":false,"labelBound":false}},"y":{"field":"m","type":"quantitative","scale":{"domain":[0,100]},"axis":{"values":[0,20,40,60,80,100],"tickCount":6,"labelOverlap":false,"title":"% of CD14⁺CD206⁺ cells"}}}},
  {"data":{"name":"bars"},"transform":[{"filter":"datum.p==10"}],"mark":{"type":"rule","strokeWidth":1.2},"encoding":{"x":{"field":"g","type":"quantitative"},"y":{"field":"lo","type":"quantitative"},"y2":{"field":"hi"},"color":{"field":"g","type":"nominal","legend":null}}},
  {"data":{"name":"bars"},"transform":[{"filter":"datum.p==10"}],"mark":{"type":"tick","orient":"horizontal","size":14,"thickness":1.2},"encoding":{"x":{"field":"g","type":"quantitative"},"y":{"field":"lo","type":"quantitative"},"color":{"field":"g","type":"nominal","legend":null}}},
  {"data":{"name":"bars"},"transform":[{"filter":"datum.p==10"}],"mark":{"type":"tick","orient":"horizontal","size":14,"thickness":1.2},"encoding":{"x":{"field":"g","type":"quantitative"},"y":{"field":"hi","type":"quantitative"},"color":{"field":"g","type":"nominal","legend":null}}},
  {"data":{"name":"dots"},"transform":[{"filter":"datum.p==10"}],"mark":{"type":"point","filled":true,"size":9,"opacity":1},"encoding":{"x":{"field":"g","type":"quantitative"},"y":{"field":"v","type":"quantitative"},"color":{"field":"g","type":"nominal","legend":null}}},
  {"data":{"name":"sig"},"transform":[{"filter":"datum.p==10"}],"mark":{"type":"rule","color":"#8a8a8a","strokeWidth":1.3},"encoding":{"x":{"field":"x1","type":"quantitative"},"x2":{"field":"x2"},"y":{"field":"y","type":"quantitative"}}},
  {"data":{"name":"sig"},"transform":[{"filter":"datum.p==10"}],"mark":{"type":"text","fontSize":6,"fontWeight":"bold","baseline":"middle","dy":1.5,"color":"black"},"encoding":{"x":{"field":"lx","type":"quantitative"},"y":{"field":"ly","type":"quantitative"},"text":{"field":"s"}}}
 ]},
 {"width":236,"height":84,"title":"CD14⁺CD206⁺ in M1 macrophages","layer":[
  {"data":{"name":"bars"},"transform":[{"filter":"datum.p==11"}],"mark":{"type":"bar","width":28,"fill":"white","stroke":"black","strokeWidth":1.6},"encoding":{"x":{"field":"g","type":"quantitative","scale":{"domain":[0.45,5.75]},"axis":{"values":[1,2,3,4,5],"title":null,"labelExpr":"['','Mac','Mac+5-FU','Mac+HF NPs','Mac+F NPs','Mac+5-FU loaded F NPs'][datum.value]","labelOverlap":false,"labelFlush":false,"labelBound":false}},"y":{"field":"m","type":"quantitative","scale":{"domain":[0,100]},"axis":{"values":[0,20,40,60,80,100],"tickCount":6,"labelOverlap":false,"title":"% of CD14⁺CD206⁺ cells"}}}},
  {"data":{"name":"bars"},"transform":[{"filter":"datum.p==11"}],"mark":{"type":"rule","strokeWidth":1.2},"encoding":{"x":{"field":"g","type":"quantitative"},"y":{"field":"lo","type":"quantitative"},"y2":{"field":"hi"},"color":{"field":"g","type":"nominal","legend":null}}},
  {"data":{"name":"bars"},"transform":[{"filter":"datum.p==11"}],"mark":{"type":"tick","orient":"horizontal","size":14,"thickness":1.2},"encoding":{"x":{"field":"g","type":"quantitative"},"y":{"field":"lo","type":"quantitative"},"color":{"field":"g","type":"nominal","legend":null}}},
  {"data":{"name":"bars"},"transform":[{"filter":"datum.p==11"}],"mark":{"type":"tick","orient":"horizontal","size":14,"thickness":1.2},"encoding":{"x":{"field":"g","type":"quantitative"},"y":{"field":"hi","type":"quantitative"},"color":{"field":"g","type":"nominal","legend":null}}},
  {"data":{"name":"dots"},"transform":[{"filter":"datum.p==11"}],"mark":{"type":"point","filled":true,"size":9,"opacity":1},"encoding":{"x":{"field":"g","type":"quantitative"},"y":{"field":"v","type":"quantitative"},"color":{"field":"g","type":"nominal","legend":null}}},
  {"data":{"name":"sig"},"transform":[{"filter":"datum.p==11"}],"mark":{"type":"rule","color":"#8a8a8a","strokeWidth":1.3},"encoding":{"x":{"field":"x1","type":"quantitative"},"x2":{"field":"x2"},"y":{"field":"y","type":"quantitative"}}},
  {"data":{"name":"sig"},"transform":[{"filter":"datum.p==11"}],"mark":{"type":"text","fontSize":6,"fontWeight":"bold","baseline":"middle","dy":1.5,"color":"black"},"encoding":{"x":{"field":"lx","type":"quantitative"},"y":{"field":"ly","type":"quantitative"},"text":{"field":"s"}}}
 ]},
 {"width":236,"height":84,"title":"CD14⁺CD206⁺ in M2 macrophages","layer":[
  {"data":{"name":"bars"},"transform":[{"filter":"datum.p==12"}],"mark":{"type":"bar","width":28,"fill":"white","stroke":"black","strokeWidth":1.6},"encoding":{"x":{"field":"g","type":"quantitative","scale":{"domain":[0.45,5.75]},"axis":{"values":[1,2,3,4,5],"title":null,"labelExpr":"['','Mac','Mac+5-FU','Mac+HF NPs','Mac+F NPs','Mac+5-FU loaded F NPs'][datum.value]","labelOverlap":false,"labelFlush":false,"labelBound":false}},"y":{"field":"m","type":"quantitative","scale":{"domain":[0,100]},"axis":{"values":[0,20,40,60,80,100],"tickCount":6,"labelOverlap":false,"title":"% of CD14⁺CD206⁺ cells"}}}},
  {"data":{"name":"bars"},"transform":[{"filter":"datum.p==12"}],"mark":{"type":"rule","strokeWidth":1.2},"encoding":{"x":{"field":"g","type":"quantitative"},"y":{"field":"lo","type":"quantitative"},"y2":{"field":"hi"},"color":{"field":"g","type":"nominal","legend":null}}},
  {"data":{"name":"bars"},"transform":[{"filter":"datum.p==12"}],"mark":{"type":"tick","orient":"horizontal","size":14,"thickness":1.2},"encoding":{"x":{"field":"g","type":"quantitative"},"y":{"field":"lo","type":"quantitative"},"color":{"field":"g","type":"nominal","legend":null}}},
  {"data":{"name":"bars"},"transform":[{"filter":"datum.p==12"}],"mark":{"type":"tick","orient":"horizontal","size":14,"thickness":1.2},"encoding":{"x":{"field":"g","type":"quantitative"},"y":{"field":"hi","type":"quantitative"},"color":{"field":"g","type":"nominal","legend":null}}},
  {"data":{"name":"dots"},"transform":[{"filter":"datum.p==12"}],"mark":{"type":"point","filled":true,"size":9,"opacity":1},"encoding":{"x":{"field":"g","type":"quantitative"},"y":{"field":"v","type":"quantitative"},"color":{"field":"g","type":"nominal","legend":null}}},
  {"data":{"name":"sig"},"transform":[{"filter":"datum.p==12"}],"mark":{"type":"rule","color":"#8a8a8a","strokeWidth":1.3},"encoding":{"x":{"field":"x1","type":"quantitative"},"x2":{"field":"x2"},"y":{"field":"y","type":"quantitative"}}},
  {"data":{"name":"sig"},"transform":[{"filter":"datum.p==12"}],"mark":{"type":"text","fontSize":6,"fontWeight":"bold","baseline":"middle","dy":1.5,"color":"black"},"encoding":{"x":{"field":"lx","type":"quantitative"},"y":{"field":"ly","type":"quantitative"},"text":{"field":"s"}}}
 ]}
],"bounds":"flush","spacing":21}
],
"config":{
 "view":{"stroke":null},
 "font":"Liberation Sans",
 "axis":{"grid":false,"domainColor":"#000000","domainWidth":1.2,"tickColor":"#000000","tickWidth":1,"tickSize":3,"labelFontSize":4.5,"labelFontWeight":"bold","labelColor":"#000000","labelPadding":1.5,"titleFontSize":5.5,"titleFontWeight":"bold","titleColor":"#000000","labelOverlap":false},
 "axisY":{"minExtent":14,"maxExtent":14,"titlePadding":3.5,"labelOverlap":false,"labelFontSize":5.2,"labelSeparation":0},
 "title":{"fontSize":7,"fontWeight":"bold","offset":17,"frame":"group","color":"#000000"}
}
}
